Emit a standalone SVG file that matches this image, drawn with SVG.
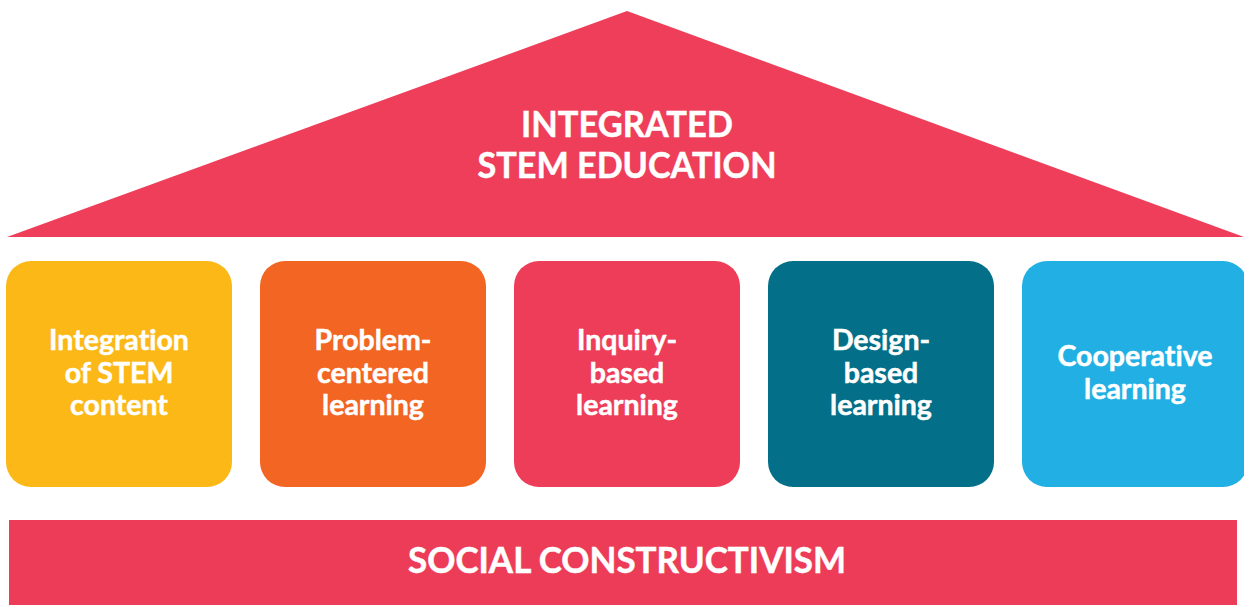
<svg xmlns="http://www.w3.org/2000/svg" width="1244" height="605" viewBox="0 0 1244 605">
  <style>
    .t { fill: #ffffff; stroke: #ffffff; stroke-width: 0.5px; font-family: Lato, "Open Sans", "Liberation Sans", sans-serif; font-weight: 700; text-anchor: middle; font-variant-ligatures: none; font-feature-settings: "liga" 0, "clig" 0; }
    .head { font-size: 37px; }
    .box { font-size: 28.5px; }
    .base { font-size: 36px; }
  </style>
  <rect width="1244" height="605" fill="#ffffff"/>
  <g id="roof">
    <polygon points="627,11 1244,237 7,237" fill="#EE3E59"/>
    <text class="t head" x="627" y="137" textLength="212" lengthAdjust="spacingAndGlyphs">INTEGRATED</text>
    <text class="t head" x="627" y="178" textLength="299" lengthAdjust="spacingAndGlyphs">STEM EDUCATION</text>
  </g>
  <g id="pillar-integration">
    <rect x="6" y="261" width="226" height="226" rx="25" fill="#FCB817"/>
    <text class="t box" x="119" y="350">Integration</text>
    <text class="t box" x="119" y="383">of STEM</text>
    <text class="t box" x="119" y="415">content</text>
  </g>
  <g id="pillar-problem">
    <rect x="260" y="261" width="226" height="226" rx="25" fill="#F26522"/>
    <text class="t box" x="373" y="350">Problem-</text>
    <text class="t box" x="373" y="383">centered</text>
    <text class="t box" x="373" y="415">learning</text>
  </g>
  <g id="pillar-inquiry">
    <rect x="514" y="261" width="226" height="226" rx="25" fill="#EE3D58"/>
    <text class="t box" x="627" y="350">Inquiry-</text>
    <text class="t box" x="627" y="383">based</text>
    <text class="t box" x="627" y="415">learning</text>
  </g>
  <g id="pillar-design">
    <rect x="768" y="261" width="226" height="226" rx="25" fill="#036F88"/>
    <text class="t box" x="881" y="350">Design-</text>
    <text class="t box" x="881" y="383">based</text>
    <text class="t box" x="881" y="415">learning</text>
  </g>
  <g id="pillar-cooperative">
    <rect x="1022" y="261" width="226" height="226" rx="25" fill="#22B0E4"/>
    <text class="t box" x="1135" y="366">Cooperative</text>
    <text class="t box" x="1135" y="399">learning</text>
  </g>
  <g id="foundation">
    <rect x="9" y="520" width="1228" height="90" fill="#ED3C57"/>
    <text class="t base" x="627" y="573" textLength="438" lengthAdjust="spacingAndGlyphs">SOCIAL CONSTRUCTIVISM</text>
  </g>
  <g id="connectors"></g>
</svg>
